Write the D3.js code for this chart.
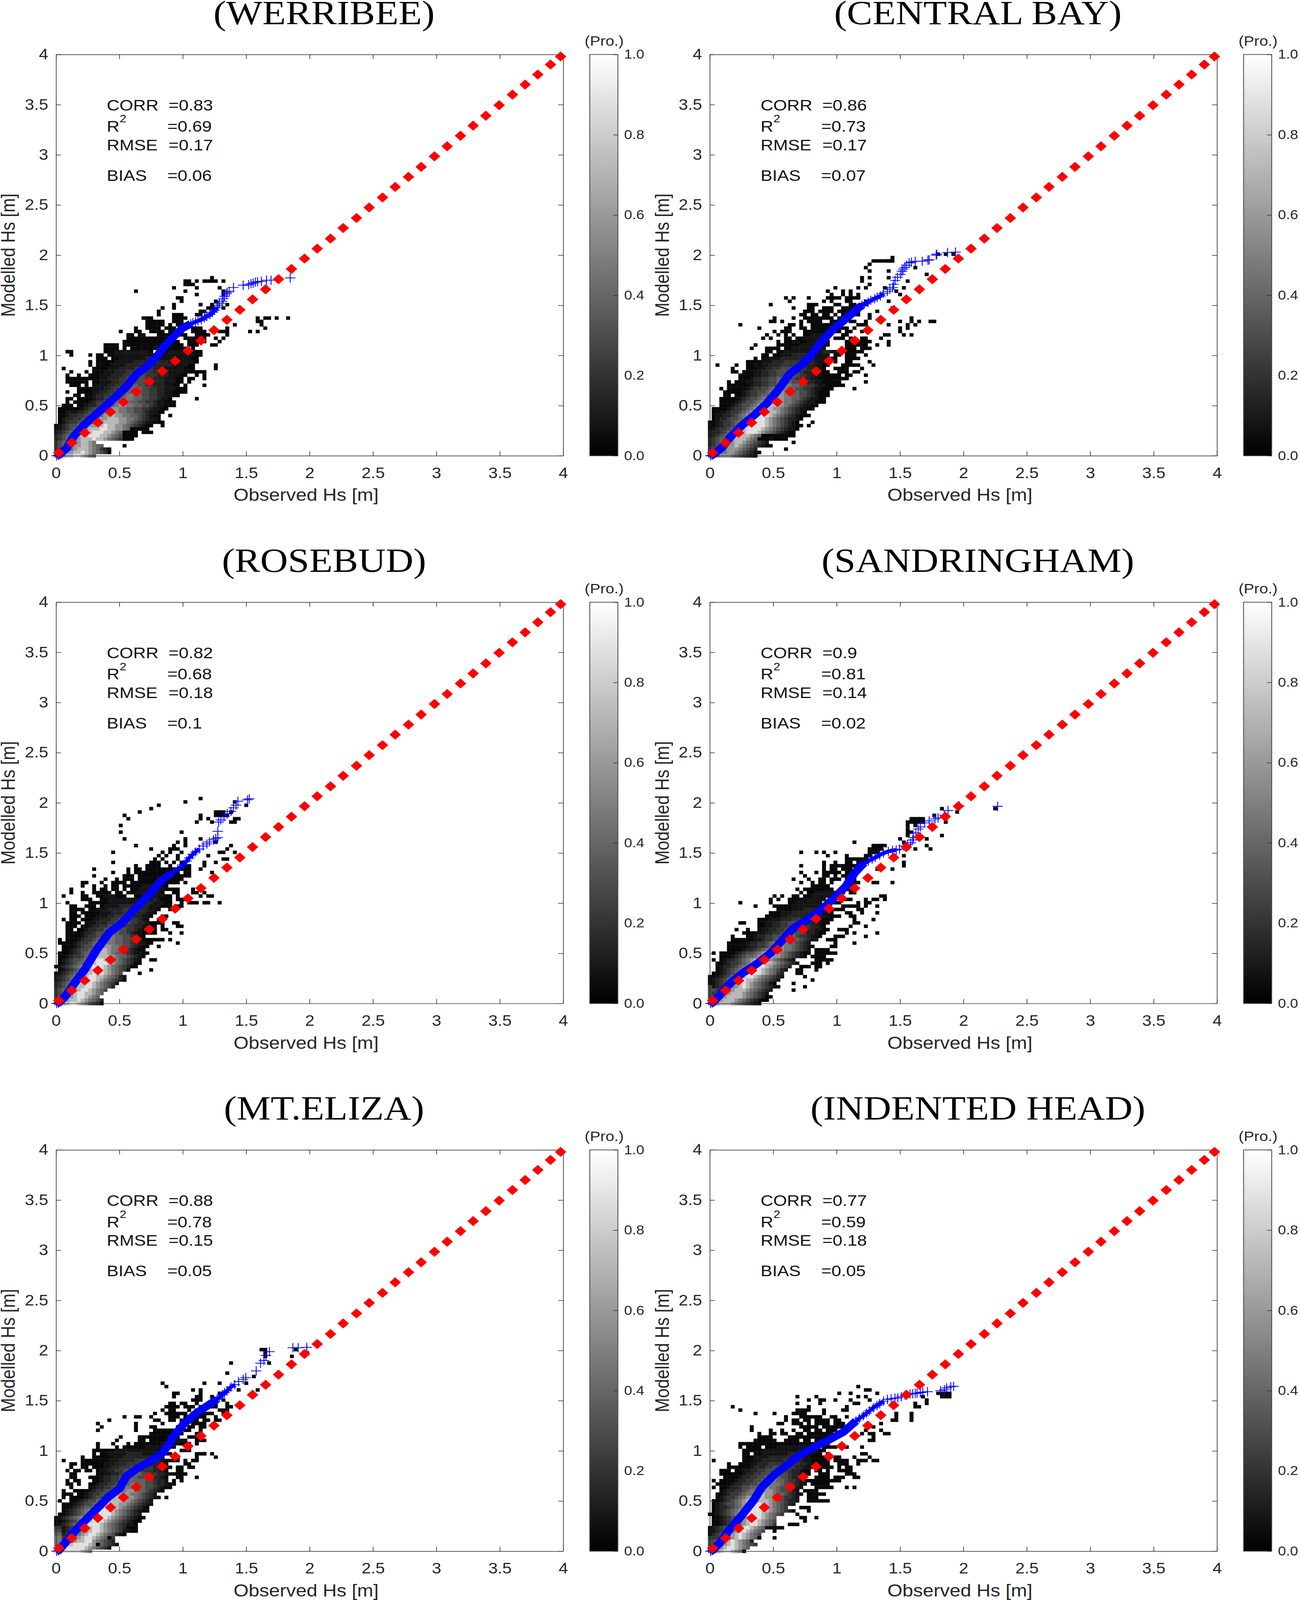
<!DOCTYPE html>
<html lang="en">
<head>
<meta charset="UTF-8" />
<title>Observed vs modelled Hs</title>
<script src="https://d3js.org/d3.v7.min.js"></script>
<style>
  html, body { margin: 0; background: #fff; overflow: hidden; }
  svg { display: block; width: 100vw; height: 100vh; font-family: "Liberation Sans", Arial, sans-serif; }
  .domain, .tick line { stroke: #262626; stroke-width: 1.6px; }
  .tick text { fill: #262626; }
</style>
</head>
<body>
<!-- the window can come out shorter than the figure, so the whole figure is fitted to it -->
<svg id="chart" viewBox="0 0 3327 4639" preserveAspectRatio="none"></svg>
<script>
// density cells are "row|col:levels col:levels", binned at 0.03 m (obs) x 0.0335 m (model)
// levels run from 0 (lowest probability) to 9 (highest)
const cellObs = 0.03;
const cellMod = 0.0335;
const levelProb = [0.03, 0.08, 0.14, 0.21, 0.29, 0.38, 0.46, 0.58, 0.72, 0.88];

const refObs = [0.022,0.124,0.227,0.33,0.43,0.532,0.634,0.736,0.838,0.94,1.041,1.143,1.246,1.348,1.45,1.55,1.653,1.755,1.857,1.96,2.06,2.165,2.265,2.37,2.47,2.575,2.675,2.78,2.88,2.985,3.085,3.19,3.29,3.39,3.495,3.6,3.7,3.8,3.9,3.98];
const refMod = [0.029,0.13,0.229,0.33,0.436,0.536,0.64,0.74,0.843,0.945,1.048,1.149,1.252,1.355,1.455,1.559,1.659,1.76,1.862,1.966,2.065,2.165,2.27,2.37,2.475,2.575,2.68,2.78,2.88,2.985,3.085,3.19,3.29,3.39,3.495,3.6,3.7,3.8,3.9,3.98];

const axisTicks = [0, 0.5, 1, 1.5, 2, 2.5, 3, 3.5, 4];
const axisLabels = ["0", "0.5", "1", "1.5", "2", "2.5", "3", "3.5", "4"];
const barTicks = [0, 0.2, 0.4, 0.6, 0.8, 1];
const barLabels = ["0.0", "0.2", "0.4", "0.6", "0.8", "1.0"];

const stationNames = ["(WERRIBEE)", "(CENTRAL BAY)", "(ROSEBUD)", "(SANDRINGHAM)", "(MT.ELIZA)", "(INDENTED HEAD)"];
const corrValues = ["0.83", "0.86", "0.82", "0.9", "0.88", "0.77"];
const r2Values = ["0.69", "0.73", "0.68", "0.81", "0.78", "0.59"];
const rmseValues = ["0.17", "0.17", "0.18", "0.14", "0.15", "0.18"];
const biasValues = ["0.06", "0.07", "0.1", "0.02", "0.05", "0.05"];

// quantile curves: solid band, then the separate crosses of the upper tail
const werribeeBandObs = [0.005,0.02,0.087,0.14,0.224,0.334,0.444,0.554,0.637,0.72,0.802,0.857,0.926,0.995,1.063];
const werribeeBandMod = [0,0.005,0.08,0.195,0.31,0.433,0.556,0.687,0.817,0.894,1.0,1.094,1.186,1.27,1.316];
const werribeeTailObs = [1.08,1.10,1.12,1.146,1.17,1.19,1.215,1.235,1.25,1.27,1.28,1.29,1.31,1.32,1.33,1.345,1.35,1.366,1.40,1.476,1.52,1.538,1.555,1.572,1.59,1.62,1.66,1.696,1.847];
const werribeeTailMod = [1.325,1.335,1.345,1.355,1.375,1.39,1.409,1.43,1.45,1.478,1.50,1.52,1.54,1.565,1.59,1.616,1.63,1.64,1.677,1.70,1.705,1.716,1.72,1.731,1.735,1.739,1.75,1.75,1.773];

const centralBandObs = [0.005,0.018,0.094,0.162,0.259,0.355,0.451,0.534,0.63,0.726,0.795,0.878,0.974,1.056,1.153,1.2];
const centralBandMod = [0,0.005,0.08,0.187,0.31,0.41,0.525,0.648,0.817,0.909,1.0,1.132,1.263,1.347,1.455,1.5];
const centralTailObs = [1.22,1.249,1.27,1.3,1.32,1.345,1.37,1.40,1.42,1.442,1.45,1.462,1.48,1.503,1.515,1.525,1.538,1.55,1.572,1.59,1.62,1.675,1.72,1.73,1.785,1.79,1.875,1.937];
const centralTailMod = [1.515,1.531,1.55,1.565,1.58,1.593,1.62,1.639,1.66,1.677,1.71,1.747,1.78,1.808,1.84,1.86,1.877,1.9,1.923,1.93,1.939,1.939,1.95,1.954,2.0,2.01,2.026,2.03];

const rosebudBandObs = [0.005,0.02,0.073,0.142,0.224,0.32,0.417,0.527,0.637,0.747,0.829,0.9];
const rosebudBandMod = [0,0.005,0.072,0.195,0.333,0.533,0.702,0.81,0.963,1.101,1.224,1.29];
const rosebudTailObs = [0.93,0.96,1.008,1.03,1.05,1.077,1.1,1.13,1.16,1.19,1.21,1.242,1.26,1.276,1.276,1.283,1.3,1.325,1.35,1.38,1.40,1.42,1.435,1.51,1.524];
const rosebudTailMod = [1.315,1.34,1.386,1.42,1.45,1.485,1.51,1.54,1.57,1.59,1.61,1.631,1.645,1.654,1.716,1.808,1.83,1.862,1.89,1.915,1.95,1.977,2.016,2.03,2.04];

const sandrBandObs = [0.005,0.02,0.081,0.155,0.258,0.361,0.479,0.567,0.656,0.774,0.892,0.995,1.069,1.142,1.216];
const sandrBandMod = [0,0.005,0.088,0.195,0.303,0.387,0.502,0.625,0.748,0.84,0.948,1.071,1.163,1.301,1.401];
const sandrTailObs = [1.25,1.28,1.304,1.34,1.37,1.408,1.44,1.47,1.496,1.53,1.56,1.585,1.6,1.606,1.625,1.643,1.66,1.695,1.73,1.776,1.8,1.85,1.879,1.968,2.27];
const sandrTailMod = [1.42,1.44,1.455,1.48,1.5,1.516,1.525,1.53,1.539,1.57,1.585,1.601,1.63,1.654,1.7,1.739,1.76,1.80,1.82,1.839,1.85,1.877,1.923,1.969,1.965];

const elizaBandObs = [0.005,0.02,0.073,0.142,0.224,0.334,0.417,0.499,0.554,0.637,0.747,0.829,0.884,0.926,1.008,1.105,1.215,1.27];
const elizaBandMod = [0,0.005,0.084,0.192,0.30,0.438,0.545,0.622,0.745,0.822,0.899,0.968,1.052,1.144,1.267,1.375,1.467,1.515];
const elizaTailObs = [1.29,1.311,1.33,1.35,1.38,1.41,1.44,1.476,1.497,1.579,1.613,1.64,1.655,1.683,1.868,1.91,1.978];
const elizaTailMod = [1.535,1.559,1.58,1.6,1.636,1.66,1.69,1.713,1.731,1.797,1.874,1.9,1.951,1.989,2.028,2.028,2.032];

const indentedBandObs = [0.005,0.018,0.08,0.149,0.245,0.341,0.41,0.506,0.602,0.713,0.823,0.946,1.056,1.153];
const indentedBandMod = [0,0.005,0.084,0.207,0.346,0.499,0.637,0.76,0.853,0.96,1.037,1.114,1.19,1.298];
const indentedTailObs = [1.18,1.21,1.235,1.26,1.29,1.318,1.34,1.37,1.401,1.43,1.46,1.483,1.51,1.54,1.579,1.6,1.62,1.634,1.66,1.68,1.717,1.82,1.85,1.868,1.9,1.923];
const indentedTailMod = [1.325,1.35,1.375,1.4,1.43,1.452,1.47,1.495,1.513,1.52,1.525,1.528,1.54,1.555,1.567,1.57,1.573,1.575,1.58,1.585,1.59,1.6,1.61,1.628,1.64,1.644];

// how many tail crosses still sit close enough to read as one thin stroke
const tailMerged = [10, 7, 8, 8, 6, 8];

const werribeeCells = [
"53|41:0","52|34:00 37:0 39:00 41:00 44:0","51|34:0 35:00","50|31:0 37:0 43:0","49|21:0 34:0 44:0","48|37:0 44:0","47|32:00","46|33:0 42:0","45|31:0 38:0 41:0 45:0","44|28:0 31:0 40:00 44:0","43|27:0 38:00","42|27:0 31:00 33:0 37:00",
"41|23:000 31:0000 53:0 55:0 56:0 58:0 61:0","40|24:0000 28:0 31:000 53:00","39|24:00000 30:0 32:000 35:0 47:0 54:0","38|21:0 24:0000 29:000 33:00 36:000 45:0 55:0","37|17:0 21:00 25:0000 30:0000 36:0000 43:0 44:00 51:0 53:0","36|19:00 22:00 27:00000 32:000 37:000 40:0 45:0",
"35|19:0000 23:00000000 34:0000 37:000 42:0 44:0","34|18:000 21:000000000000 35:000 38:00 43:0","33|13:00 15:00 18:0000000000000000 35:000 41:00","32|13:000 16:0 18:0 20:000000111000000 36:0","31|3:00 13:0 14:001111111110 27:000111111000","30|4:0 9:0 11:00 14:0011111111111 26:0001111111100",
"29|11:000 15:00111111122221111111100","28|9:0 11:000 14:001111122222222211111110 37:0","27|9:0 11:000 13:001111222222222222111100 42:0","26|2:0 10:00 12:0011122223333322211111000 42:0","25|4:0 8:0 10:00 12:0111222333333322221111000 37:000","24|3:0 6:0 9:00 11:011122233444433322211100 37:0 39:0",
"23|3:00000 8:000 11:01122233444443322211100 35:00 39:0","22|3:000000 10:00111223344444332221110 32:00 35:0","21|4:000 8:0 10:0111223344554433222110 32:0 34:0 39:0","20|6:000 9:01112233445555443322111000","19|3:0 6:000 9:0112233445555544332211000 34:0","18|5:00 8:0012233445566554433221100 31:00",
"17|3:00 6:00 8:00122334456665544332110 37:0","16|3:0 5:00 7:0012334456666554433211000","15|2:000 6:00122344556776655443211000","14|1:0000 5:0012344556776655443321100 28:0","13|1:0011122344556777665544321100","12|1:001223344566778776655432100 30:0","11|1:012233445667788877665432110",
"10|1:0123344556778888776543211000","9|0:01234455677889887765432100 28:0","8|0:0123456778889988776543210 20:0000","7|0:1234567888999887654321 18:0000 23:000","6|0:2345678889998876543210 18:000","5|0:23456778889887654320 18:000","4|0:34556778876","3|0:3455677887655 18:0","2|0:345667888765321","1|0:456778898765430","0|0:56788998765"];

const centralCells = [
"60|60:0 62:0 64:0","59|48:0","58|43:00000 47:00","57|42:0","56|41:0 54:0","55|42:0 47:0","54|57:0","53|40:0 42:0 47:0","52|40:0 52:0","51|42:0","50|33:0 39:0 41:0 46:0 51:0","49|31:0 35:0 37:0 49:0","48|32:0 35:0 37:0 39:0 50:0",
"47|20:0 22:0 26:0 31:00 33:00 36:0000 39:0","46|21:0 30:0 32:0 36:00 41:0 47:0","45|16:0 26:000 33:00 37:00 40:00","44|22:0 26:00 30:000 35:000 38:0 48:0","43|25:000 29:0000 34:0000 38:00 44:0","42|24:00 27:00 30:00 33:0 35:00 38:00 42:0","41|17:0 22:0 25:000 28:00 30:000 34:00 42:0 53:0",
"40|16:00 19:0 24:0 26:0000 32:000 37:00 41:0 50:0 53:0 55:0 58:00","39|8:0 21:00 24:0 27:000000 34:0 39:00 41:0 47:0 52:0 54:0","38|13:0 20:00 24:00 27:000000 33:0000 38:0 50:0 52:0","37|17:0 19:000 25:00000011 32:000 36:00 40:0 50:0","36|15:0 18:0 20:0 22:0 25:0011111 35:00 46:00 51:0 53:0","35|14:0 16:0 20:00 23:00111111 33:000 37:0 40:00 45:0",
"34|18:0 20:00110 24:00111111 36:0000000 41:00 47:0","33|12:0 18:0000 22:0011111111 36:000000 44:0 47:0","32|11:0 15:0000 20:00111111111 36:000 40:000","31|15:00 18:00111111111122111 36:00000","30|14:00 17:001112222221111 33:00 36:000 41:0","29|12:0 14:00111222222222111100 36:000 39:0","28|10:00 12:00111222333322221110 33:0 36:00 42:0",
"27|2:0 7:0 10:001 13:0112223333332221100 35:000 38:00 43:0","26|6:0 10:00 12:0112233444433322110 33:000 36:0 40:0","25|6:00 9:00 11:011223344444332211000 34:000 38:00","24|8:00 10:00112233445544332211000 33:00 36:00 41:0","23|8:000 10:0122334455544332211000 32:000 35:00","22|5:0 7:00 9:01122334455554433221100 31:0000 41:0","21|5:0000 9:0012233445566554433211000 32:000 35:0",
"20|3:0 5:000 8:0012334456666554433211000 31:00 38:0","19|4:0000 8:012334456677665544321100 29:00","18|4:00 7:001233455677766554432110 29:000","17|3:000 6:0012344566777766554321100","16|3:00 5:00123445677887766543211000","15|3:000 5:012344567888877654321100","14|1:00 3:001233456788887765432110 27:0",
"13|1:0011233456788998876543210","12|1:01122345678899987654321000","11|1:012234456789998765432210","10|0:001233456789999876543210 27:0","9|0:0012334567899998765432100 26:0","8|0:012334567899998765432110","7|0:12234567889998765432100","6|0:1234567888876543210 14:0000 18:00000","5|0:23456778887654321 13:000 17:000 20:0","4|0:2345677887654321 22:0","3|0:23456778765432100","2|0:3456677765432 20:0","1|0:34566776543210","0|0:4567776543210"];

const rosebudCells = [
"61|38:0","60|34:0 47:0","59|27:0 50:0","58|25:0","57|22:0 42:000 46:0","56|18:0 38:0 42:00 44:00","55|19:0 38:0 40:0 47:00","54|37:0 41:0 46:00","53|17:0","51|17:0 33:0","49|18:0 34:0 38:0","48|32:0 34:0 42:0","47|21:0 31:0 34:0 46:0","46|25:0 30:00 32:0 45:0","45|15:0 28:0 30:0 33:0 43:0 44:0 47:0","44|27:0 29:0 32:0 40:0","43|26:0 28:0 32:0 44:00","42|15:0 25:00 27:0 29:0 31:0 33:0 39:0 42:0",
"41|21:0 24:0000 30:0 33:000 39:0","40|10:0 19:0 21:00 24:00000 29:000 32:0000 38:0","39|15:0 19:0 21:00000 26:0000 30:000 34:00 41:0","38|10:0 18:00 20:0 22:00000 27:000 31:000 34:00","37|13:0 16:0 18:000 22:0000000 29:0000 33:0","36|7:00 12:0 15:00 17:00 20:000000111000 31:00 34:0","35|7:0 10:0 13:0 15:00 18:000001111000","34|4:0 10:0 12:00 15:00 18:0 20:00111111100 31:00 36:0",
"33|4:0 7:0 10:000 13:00 16:00 19:0011111110 31:00 36:00 39:0","32|2:0 7:00 11:00111000 21:0011111100 29:0 32:0 38:0 40:00","31|7:00 9:0 12:001111111111112100 29:00 32:00 34:0","30|3:0 9:00 11:00 13:011111111222211100 29:00 33:0 35:00 37:0 39:00 43:0","29|4:00 8:000 12:0111122222222111 28:000 32:00","28|4:00 6:00 9:0011122223333222110 30:0","27|4:00 7:000 10:00111222333322110","26|4:000 8:0 9:00111223333322110 28:00",
"25|2:0 4:00 7:00 9:0112223344433210 27:00","24|3:0000 8:0112223344443322100 26:000 31:00","23|3:0 4:00 7:0012233444433322100 25:00 28:0 32:00","22|3:00 6:0012233445544332100 24:000 28:00","21|3:000 6:012234455554432110 24:000 30:0 33:0","20|3:00 5:0012334456655443210","19|1:0 3:000 5:012334567665544321000 26:000 30:0","18|1:00 3:00 4:0123345677665544321100 32:0",
"17|2:00 4:012344567776654432100 27:0","16|2:00 3:012344567887665432100","15|1:0 2:00123455678876554321100","14|1:00123345678888765543210","13|1:0123445678998876543210 25:00","12|1:0123455678999876543200","11|0:0123456788999876543200 21:0","10|1:0123456789998765432 19:0 25:0","9|0:012345678899987654 22:0","8|0:1234567889988765421","7|0:1234567889987654320","6|0:23456788998765431","5|0:2345678899876542","4|0:34567889987654","3|0:3456789988765","2|0:345678998765","1|0:4567889876542","0|0:5678998764320"];

const sandrCells = [
"58|61:0 75:0","57|65:0","56|59:0","55|53:0000","54|52:00000 55:00 62:0","53|52:0 54:0","52|52:0","51|52:00","50|52:0 61:0","49|50:0 57:0","48|38:0 51:0","47|43:000 45:00 57:0","46|42:000 45:0 54:0 58:0","45|24:0 28:0 30:0 33:0 42:00 44:0","44|31:0 36:0 41:00 51:0","43|36:0000 40:00","42|30:0 33:0 36:00 39:000 51:0","41|24:0 30:0 32:0000 36:0000 51:0",
"40|30:0 32:00 35:000 44:0 48:0","39|24:0 28:0 30:000 33:00 36:000","38|25:0 30:00 33:0 35:000","37|22:0 26:0 29:00 32:000 36:000","36|24:0 27:0 29:00 32:0 38:00 43:00 48:0","35|27:00000 31:0 37:00","34|23:0 25:00 27:000000 36:00","33|24:0 26:0011111000 37:00","32|17:0 19:0 22:00 25:0011111000 45:00","31|16:0 18:0 21:00 23:00111111 36:00 41:0 43:00 46:0",
"30|8:0 16:0 21:001111111 33:00 39:0 41:00","29|12:0 17:0 18:00 20:0011111111 35:000 38:00 41:0 44:0","28|18:00 20:0011122222111000 39:00","27|16:00 18:011122222221110 36:00 40:0 44:0","26|15:000 18:01122222222211000 37:00","25|13:00011122233322111000 38:0 43:0","24|8:00 13:0011223344433221100 38:00","23|13:001122334444332210 37:0 41:0",
"22|7:0 10:0 13:0112233444433221100 34:000","21|9:00 11:00112233445544322100 36:0 38:0 44:0","20|6:0 10:00 11:0122334455554332100 33:000 41:0","19|6:000 9:00 11:011233455665543211 31:000","18|5:0000 9:012233456666554321 33:0 38:0","17|5:000 8:00122334567766543210 32:00","16|5:00 7:00122345677776654321 28:0000","15|1:0 3:00 5:0012344567887765432100 28:00000 33:0",
"14|3:000 5:012345567888776543210 27:0000","13|1:0 3:01223456788887654321 28:00000","12|2:0012334567899887654321 27:000 31:0","11|2:01223456789998765432 24:000 28:00","10|2:0123456789998765421 23:00 28:0","9|1:0012345678999876532 23:00","8|0:00123456789987654321 25:0","7|0:0123456789887654321 27:0","6|0:012345678987654310 22:0","5|0:4123456789876543210 25:0","4|0:44345678887654321 22:0","3|0:4345678887654321","2|0:4456788887654320 16:0","1|0:5567888765432100","0|0:56788876543210"];

const elizaCells = [
"60|54:00 63:0","59|55:0 66:0","58|55:0 62:0","56|46:0 56:0","53|45:0","52|52:0","50|28:0 39:0 43:0 50:0","49|29:0","48|36:0 38:0 48:0 53:0","47|31:00 38:0 43:0","46|31:0 37:00 41:0","45|36:00 38:0 42:0 44:0","44|30:00 33:00 37:0 40:000 45:0","43|29:000 32:0 34:00 36:0 38:00 41:00 45:00","42|28:0 30:00 35:0 37:00 43:000","41|26:0 29:000 32:000 36:0000 40:00 44:00",
"40|18:0 21:00 25:0 30:000 34:0000 38:00 42:0","39|14:0 26:00 30:00 33:0000 37:0 39:00 42:00","38|11:0 21:0 28:0 33:00 36:000 38:00","37|12:0 21:0 25:00 32:00 35:00 38:00","36|11:0 21:0 26:00000 31:00 34:00 38:0","35|25:00000 30:0000 37:00","34|17:0 22:00 24:00 26:000 29:0011 35:000","33|16:0 22:00 25:000 28:0011111 37:000",
"32|11:0 15:0 19:0 21:000 24:00 26:001111111 33:000 37:0","31|11:0 16:0 18:00001 22:0011111111","30|10:000 13:00011111111111111 27:00 33:000","29|10:0 12:0 13:01111122221111 28:000 37:000 39:0 41:0","28|7:0 10:0000 14:011122222222111 31:00 37:0 42:0","27|2:0 7:00 9:0000 13:01112222333322211110 34:0 36:00","26|4:00 7:00 9:000 12:011122233333222211 34:00","25|4:0 7:00 10:000 12:0112233344433322110 32:00 35:00",
"24|3:0 5:00 8:00 11:0112233444443332210 32:00","23|4:00 11:0011223344554433221100 33:00","22|4:00 9:00 11:0122334455544332210 32:00 37:0","21|3:0 5:00 10:00122334455555443221 31:0 33:0","20|3:00 6:0 9:001223344556655443221 30:00","19|4:0 9:012233455666655443210 30:0","18|2:0 5:00 7:0012334456667765543210 28:0","17|2:0 3:0 4:0 6:001233445677776654321","16|2:0 4:00 6:0012344567888776543210 29:0",
"15|1:0 4:0012344567888877654321","14|2:0 3:00123445678988776543211","13|2:00123455678998876543210","12|2:0123456789999876543210 24:0","11|1:0012345678999987654321","10|0:012345678899998765432100","9|0:00123456789998765432100 22:0","8|0:0123456789998765432110","7|0:3312345678998765432100 19:0","6|0:4412345678998765431100","5|0:5523456789987654210","4|0:6634567899876543 14:0","3|0:6645678899765432","2|0:66788999987654321 11:0","1|0:778999998765431","0|0:8899999876"];

const indentedCells = [
"49|39:0","48|41:00","47|34:0 37:0 44:0 60:0000","46|23:0 28:0 39:0 41:0 56:0 61:000","45|26:0 29:00 33:0 37:0 42:0 57:0","44|23:0 29:0 38:00 54:0 57:0","43|6:0 26:0 36:0 54:00","42|8:0 23:0000 30:0 35:00","41|12:0 17:0 22:000 25:0 30:0 49:0 53:0","40|20:0 24:0000 28:00 32:00 36:0 49:0 53:0","39|20:0 22:00 25:00 28:00 30:00 33:00 48:00 53:0","38|18:00 22:000 26:0 28:000 31:0 33:00 35:0 45:0",
"37|11:0 24:0 25:000 28:0 30:0000 34:00 43:0","36|11:0 16:0 19:0 22:0 25:00 28:00 31:000 41:0 45:0","35|13:0 16:00 19:00 23:00 26:000 29:00 31:00 35:0 40:0 42:00 46:00","34|13:00 15:00 21:000 24:000 27:000 30:00 43:0","33|12:00 14:00 16:00 20:00 22:00 25:00 28:00 30:0 42:00","32|8:00000 13:000000 19:00 21:000000 27:0001 31:0","31|8:0 10:0000 15:00011111111100 30:00 32:00 36:0 40:0","30|9:00 11:00011111111111111100",
"29|9:00 12:001111111222221100 31:0 40:00","28|9:0 10:0011112222222221100 28:000 33:00 38:0 42:0","27|1:0 9:00 10:001122222233322110 28:0000 33:0000 39:000 43:00","26|5:0 8:000 10:0112223333333322110 29:000 34:000 39:0","25|5:00 7:00 9:00122233444433221100 29:0000 34:0 36:00","24|3:000 7:0 8:0112233444443322100 28:00 31:0 34:000 37:0","23|3:0000 6:0 7:00122334455444322100 29:000 36:000","22|4:0 5:00 6:0012233445555443221 28:0000 33:000 38:00",
"21|1:0 3:00 5:0012233445566554332110 27:0000 31:0000","20|2:00 4:0012233445566665443211 27:0000 31:0","19|1:0 3:0012234455677665443210 28:00000 36:0 38:0","18|3:012233456677776544321 25:0000","17|2:00123345667887765543210 26:00000","16|2:0123345678888776543321 26:000","15|1:0 2:0123456788988876543221 26:000000","14|1:0123445678999887654321","13|1:01223456789998876543 24:000","12|1:0123456789999887654320 26:0",
"11|0:00123456789999876543 23:0","10|1:00123456789998765 24:00 28:0","9|1:00123456789987654 25:0","8|1:00123456789987653 21:000","7|0:0123456789987651 16:0000","6|0:012345678987654 17:0","5|0:02345678987654","4|0:33345678987654 13:0 17:0","3|0:445678987652","2|0:4456789876543","1|0:45678998765","0|0:5678998760"];

const cellTables = [werribeeCells, centralCells, rosebudCells, sandrCells, elizaCells, indentedCells];
const bandObs = [werribeeBandObs, centralBandObs, rosebudBandObs, sandrBandObs, elizaBandObs, indentedBandObs];
const bandMod = [werribeeBandMod, centralBandMod, rosebudBandMod, sandrBandMod, elizaBandMod, indentedBandMod];
const tailObs = [werribeeTailObs, centralTailObs, rosebudTailObs, sandrTailObs, elizaTailObs, indentedTailObs];
const tailMod = [werribeeTailMod, centralTailMod, rosebudTailMod, sandrTailMod, elizaTailMod, indentedTailMod];

// layout, in figure pixels
const colLeft = [143.3, 1816.6];
const rowTop = [158, 1746, 3334];
const plotW = 1298;
const plotH = 1163.5;

const svg = d3.select("#chart");
const grayScale = d3.scaleLinear().domain([0, 1]).range(["#000000", "#ffffff"]);

const grad = svg.append("defs").append("linearGradient")
  .attr("id", "barGrad").attr("x1", 0).attr("x2", 0).attr("y1", 1).attr("y2", 0);
grad.append("stop").attr("offset", "0%").attr("stop-color", grayScale(0));
grad.append("stop").attr("offset", "100%").attr("stop-color", grayScale(1));

function parseCells(rows) {
  const out = [];
  rows.forEach(r => {
    const [row, spans] = r.split("|");
    spans.split(" ").forEach(s => {
      const [col, levels] = s.split(":");
      levels.split("").forEach((l, i) => out.push({ col: +col + i, row: +row, level: +l }));
    });
  });
  return out;
}

function drawPanel(i) {
  const left = colLeft[i % 2], top = rowTop[Math.floor(i / 2)];
  const g = svg.append("g").attr("transform", `translate(${left},${top})`);
  const x = d3.scaleLinear().domain([0, 4]).range([0, plotW]);
  const y = d3.scaleLinear().domain([0, 4]).range([plotH, 0]);

  g.append("text").attr("x", 686).attr("y", -88)
    .attr("text-anchor", "middle").attr("font-family", "'Liberation Serif', serif")
    .attr("font-size", 98).attr("fill", "#000").text(stationNames[i]);

  // density cells
  const cw = x(cellObs) - x(0), ch = y(0) - y(cellMod);
  g.append("g").selectAll("rect").data(parseCells(cellTables[i])).join("rect")
    .attr("x", d => x(d.col * cellObs) - cw / 2)
    .attr("y", d => y(d.row * cellMod) - ch / 2)
    .attr("width", cw + 0.4).attr("height", ch + 0.4)
    .attr("fill", d => grayScale(levelProb[d.level]));

  // axes, mirrored on the top and right
  const fmt = d => axisLabels[axisTicks.indexOf(d)];
  const bottom = g.append("g").attr("transform", `translate(0,${plotH})`)
    .call(d3.axisBottom(x).tickValues(axisTicks).tickSizeOuter(0).tickSizeInner(-13).tickFormat(fmt));
  bottom.selectAll("text").attr("y", 34).attr("font-size", 43);
  const leftAxis = g.append("g")
    .call(d3.axisLeft(y).tickValues(axisTicks).tickSizeOuter(0).tickSizeInner(-13).tickFormat(fmt));
  leftAxis.selectAll("text").attr("x", -20).attr("font-size", 43);
  g.append("g").call(d3.axisTop(x).tickValues(axisTicks).tickSizeOuter(0).tickSizeInner(-13).tickFormat(""));
  g.append("g").attr("transform", `translate(${plotW},0)`)
    .call(d3.axisRight(y).tickValues(axisTicks).tickSizeOuter(0).tickSizeInner(-13).tickFormat(""));
  g.selectAll(".domain").attr("fill", "none");

  g.append("text").attr("x", 640).attr("y", plotH + 131)
    .attr("text-anchor", "middle").attr("font-size", 49.5).attr("fill", "#262626").text("Observed Hs [m]");
  g.append("text").attr("transform", `translate(-105,${plotH / 2}) rotate(-90)`)
    .attr("text-anchor", "middle").attr("font-size", 49.5).attr("fill", "#262626").text("Modelled Hs [m]");

  // statistics block
  const stats = g.append("g").attr("font-size", 45).attr("fill", "#111");
  const statRow = (label, value, yy, eqX) => {
    stats.append("text").attr("x", 130).attr("y", yy).text(label);
    stats.append("text").attr("x", eqX).attr("y", yy).text("=" + value);
  };
  statRow("CORR", corrValues[i], 162, 288);
  statRow("R", r2Values[i], 224, 285);
  stats.append("text").attr("x", 163).attr("y", 197).attr("font-size", 31).text("2");
  statRow("RMSE", rmseValues[i], 278, 288);
  statRow("BIAS", biasValues[i], 366, 285);

  // quantile band and crosses
  const line = d3.line().x(d => x(d[0])).y(d => y(d[1]));
  const band = bandObs[i].map((v, k) => [v, bandMod[i][k]]);
  const tail = tailObs[i].map((v, k) => [v, tailMod[i][k]]);
  g.append("path").attr("d", line(band)).attr("fill", "none")
    .attr("stroke", "#0000ff").attr("stroke-width", 22).attr("stroke-linejoin", "round");
  g.append("path").attr("d", line(band.slice(-1).concat(tail.slice(0, tailMerged[i])))).attr("fill", "none")
    .attr("stroke", "#0000ff").attr("stroke-width", 11).attr("stroke-linejoin", "round");
  g.append("g").selectAll("path").data(band.concat(tail)).join("path")
    .attr("transform", d => `translate(${x(d[0])},${y(d[1])})`)
    .attr("d", "M-13.5,0H13.5M0,-13.5V13.5")
    .attr("stroke", "#0000ff").attr("stroke-width", 2.2).attr("fill", "none");

  // 1:1 reference diamonds
  g.append("g").selectAll("path").data(refObs).join("path")
    .attr("transform", (d, k) => `translate(${x(d)},${y(refMod[k])})`)
    .attr("d", "M0,-14.7L14.7,0L0,14.7L-14.7,0Z").attr("fill", "#ff0000");

  // colour bar
  const bar = g.append("g").attr("transform", "translate(1366,0)");
  const barY = d3.scaleLinear().domain([0, 1]).range([plotH, 0]);
  bar.append("rect").attr("width", 72).attr("height", plotH)
    .attr("fill", "url(#barGrad)").attr("stroke", "#404040").attr("stroke-width", 2);
  const barAxis = bar.append("g").attr("transform", "translate(72,0)")
    .call(d3.axisRight(barY).tickValues(barTicks).tickSizeOuter(0).tickSizeInner(-12)
      .tickFormat(d => barLabels[barTicks.indexOf(d)]));
  barAxis.select(".domain").remove();
  barAxis.selectAll("text").attr("x", 16).attr("font-size", 37);
  bar.append("text").attr("x", 37).attr("y", -26).attr("text-anchor", "middle")
    .attr("font-size", 40).attr("fill", "#262626").text("(Pro.)");
}

stationNames.forEach((d, i) => drawPanel(i));
</script>
</body>
</html>
